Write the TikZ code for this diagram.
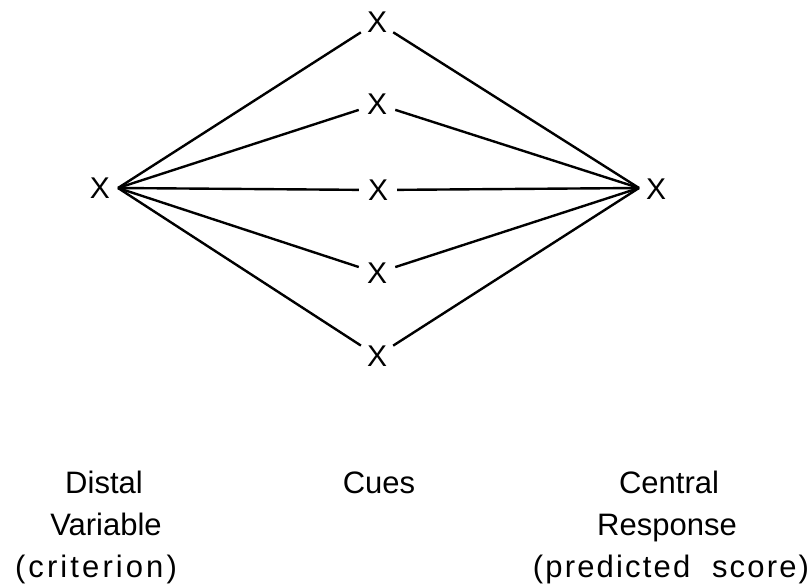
\documentclass[tikz,border=0pt]{standalone}
\usepackage{fontspec}
\setmainfont{Liberation Sans}
\begin{document}
\begin{tikzpicture}[x=1pt,y=-1pt,
  lbl/.style={font=\fontsize{31}{31}\selectfont, inner sep=0pt, anchor=base},
  spaced/.style={lbl, font=\fontsize{31}{31}\selectfont\addfontfeature{LetterSpace=#1}},
  var/.style={font=\fontsize{30}{30}\selectfont, inner sep=0pt},
  cue/.style={var, circle, minimum size=38pt},
  link/.style={line width=2.4pt}]
\useasboundingbox (0,0) rectangle (810,588);

% variables
\node[var] (dist) at (100,188) {X};
\node[var] (resp) at (656,189) {X};
\node[cue] (c1) at (377,22)  {X};
\node[cue] (c2) at (377,104) {X};
\node[cue] (c3) at (378,190) {X};
\node[cue] (c4) at (377,273) {X};
\node[cue] (c5) at (377,356) {X};

% fan-out and fan-in points
\coordinate (dfan) at (118,188);
\coordinate (rfan) at (639,188);

\foreach \c in {c1,c2,c3,c4,c5}{
  \draw[link] (dfan) -- (\c);
  \draw[link] (\c) -- (rfan);
}

% column captions
\node[lbl] (d1) at (104,493) {Distal};
\node[lbl] (d2) at (106,535) {Variable};
\node[spaced=10] (d3) at (96,577) {(criterion)};
\node[lbl] (q1) at (379,493) {Cues};
\node[lbl] (r1) at (669,493) {Central};
\node[lbl] (r2) at (667,535) {Response};
\node[spaced=7] (r3) at (671,577) {(predicted\hspace*{11pt} score)};
\end{tikzpicture}
\end{document}
